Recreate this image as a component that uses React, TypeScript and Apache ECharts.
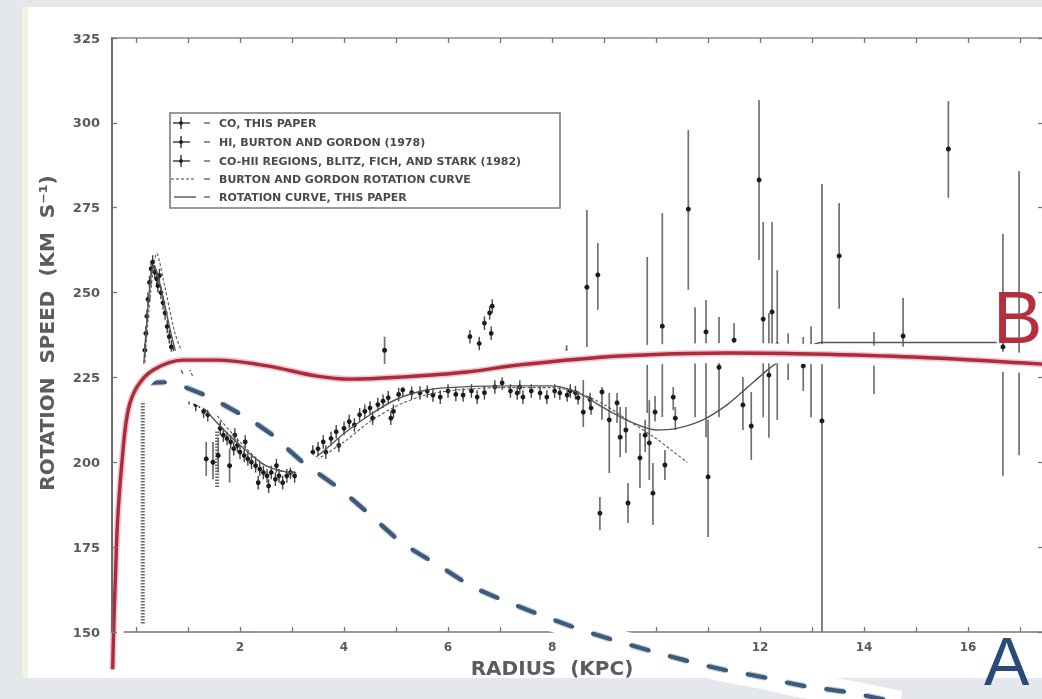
import React, { useEffect, useRef } from "react";
import * as echarts from "echarts";

// ---------- axes ----------
const X_MIN = -0.4615;
const X_MAX = 17.44;
const xTickValues = [0, 1, 2, 3, 4, 5, 6, 7, 8, 9, 10, 11, 12, 13, 14, 15, 16, 17];
const xLabelValues = [2, 4, 6, 8, 10, 12, 14, 16];
const Y_MIN = 150;
const Y_MAX = 325;
const Y_STEP = 25;

// ---------- scanned data: CO, this paper (R kpc, V km/s) ----------
const coPeak = [
  [0.17, 233], [0.19, 238], [0.21, 243], [0.23, 248], [0.26, 253], [0.29, 257], [0.32, 259],
  [0.36, 256], [0.4, 254], [0.42, 252], [0.45, 255], [0.48, 250], [0.52, 247], [0.56, 244],
  [0.6, 240], [0.64, 237], [0.68, 234], [0.72, 232],
];
const coDip = [
  [0.95, 221], [1.02, 219], [1.08, 220], [1.15, 217], [1.22, 218], [1.3, 215], [1.38, 214],
  [1.62, 210], [1.68, 208], [1.75, 207], [1.82, 206], [1.88, 204], [1.9, 208], [1.95, 205],
  [2.0, 203], [2.08, 202], [2.1, 206], [2.15, 201], [2.22, 200], [2.3, 199], [2.35, 194],
  [2.38, 198], [2.45, 197], [2.52, 196], [2.55, 193], [2.6, 197], [2.68, 195], [2.7, 199],
  [2.75, 196], [2.82, 194], [2.9, 196], [2.97, 197], [3.05, 196],
];
const coRise = [
  [3.3, 201], [3.4, 203], [3.5, 204], [3.6, 206], [3.65, 203], [3.75, 207], [3.85, 209],
  [3.9, 205], [4.0, 210], [4.1, 212], [4.2, 211], [4.3, 214], [4.4, 215], [4.5, 216],
  [4.55, 213], [4.65, 217], [4.75, 218], [4.85, 219], [4.9, 213], [4.95, 215], [5.05, 220],
];
const coFlat = [
  [5.13, 221.3], [5.3, 220.5], [5.46, 220.4], [5.6, 221], [5.71, 219.8], [5.85, 219.2],
  [6.0, 221], [6.15, 220], [6.29, 219.8], [6.45, 221], [6.56, 219.2], [6.7, 220.5],
  [6.9, 222.2], [7.04, 223.4], [7.2, 221], [7.33, 220.4], [7.38, 222.2], [7.44, 219.2],
  [7.6, 221], [7.77, 220.4], [7.9, 219.2], [8.05, 221], [8.15, 220.4], [8.29, 219.8],
  [8.35, 221], [8.45, 220.5], [8.5, 219], [8.73, 218.5], [8.75, 216],
];
const coHigh = [
  [6.42, 237], [6.6, 235], [6.7, 241], [6.8, 244], [6.85, 246], [6.83, 238],
];
const CO_ERR = 2;

// ---------- HI / HII points with error bars: [R, V, low, high] ----------
const barPoints = [
  [1.35, 201, 196, 206], [1.48, 200, 195, 206], [1.58, 202, 197, 207], [1.8, 199, 194, 204],
  [4.78, 233, 229, 237], [8.28, 232.5, 230.5, 234.5], [8.6, 214.8, 210.4, 224.2],
  [8.67, 251.6, 234, 274.3], [8.88, 255.2, 244.9, 264.6], [8.92, 185, 180, 189.8],
  [8.96, 220.7, 212.5, 222.2], [9.1, 212.5, 196.8, 220.4], [9.25, 217.5, 211.6, 220.4],
  [9.31, 207.4, 201.5, 216.3], [9.42, 209.5, 202.7, 216.3], [9.46, 188, 182.1, 193.9],
  [9.69, 201.3, 192.4, 208.6], [9.79, 208, 203, 212.5], [9.83, 232, 214.5, 260.5],
  [9.87, 205.7, 194.8, 218.3], [9.94, 190.9, 181.5, 199.8], [9.98, 214.8, 212, 219.5],
  [10.12, 240.1, 213.3, 273.4], [10.17, 199.2, 194.8, 203.6], [10.33, 219.2, 215.4, 222.2],
  [10.37, 213, 209.5, 216.3], [10.62, 274.6, 250.8, 297.9], [10.75, 230, 213.3, 245.7],
  [10.96, 238.4, 207.4, 247.8], [11.0, 195.7, 178, 212.5], [11.21, 228, 213.3, 242.8],
  [11.5, 236, 231, 241], [11.67, 216.9, 209.5, 225.1], [11.83, 210.7, 200.7, 220.7],
  [11.98, 283.2, 259.6, 306.7], [12.06, 242.2, 213.3, 270.8], [12.17, 225.7, 207.2, 244],
  [12.23, 244.3, 233.1, 270.8], [12.33, 234.6, 212.5, 256.6], [12.54, 230, 224.2, 238],
  [12.83, 228.4, 221, 236.9], [12.98, 232, 213.3, 240.1], [13.19, 212.2, 150, 282],
  [13.52, 260.8, 245.2, 276.4], [14.19, 232, 220.1, 238.4], [14.75, 237.2, 233.7, 248.4],
  [15.62, 292.3, 277.9, 306.4], [16.67, 234, 196, 267.3], [16.98, 229, 202.1, 285.8],
];
// dense hatched columns: [R, low, high]
const hatchBars = [
  [0.13, 152.5, 218],
  [1.56, 192.7, 209.5],
];

// ---------- rotation curves ----------
const rcThisPaper = [
  [0.15, 229], [0.22, 244], [0.3, 256], [0.35, 258], [0.42, 255], [0.5, 250], [0.6, 243],
  [0.72, 235], [0.9, 226], [1.2, 218], [1.6, 211], [2.0, 205], [2.5, 199], [3.0, 197],
  [3.5, 202], [4.0, 208.5], [4.5, 214], [5.0, 218.5], [5.5, 221], [6.0, 222], [7.0, 222.5],
  [8.0, 222.5], [8.5, 220.5], [9.0, 216], [9.5, 212], [10.0, 209.5], [10.4, 210],
  [10.9, 212.5], [11.37, 217], [11.75, 222], [12.13, 227], [12.4, 230], [12.8, 233],
  [13.19, 235.3], [16.55, 235.3],
];
const rcBurtonGordon = [
  [0.15, 225], [0.25, 245], [0.4, 261.5], [0.55, 252], [0.75, 238], [0.9, 232], [1.2, 222],
  [1.6, 213], [2.0, 206], [2.5, 199], [3.0, 197], [3.5, 201], [4.0, 206], [4.5, 212],
  [5.0, 216.5], [5.5, 219.5], [6.0, 221], [7.0, 222], [8.0, 222], [8.5, 220.5], [9.0, 217],
  [9.5, 212], [10.0, 207], [10.3, 203.5], [10.6, 200],
];

// ---------- overlay curves ----------
const curveB = [
  [-0.45, 139], [-0.42, 156], [-0.4, 164.4], [-0.35, 183.9], [-0.25, 203.6], [-0.15, 215.4],
  [0.02, 222.2], [0.33, 227.2], [0.9, 230.1], [1.56, 230.1], [2.52, 228.4], [3.48, 225.4],
  [4.12, 224.5], [5.08, 225.1], [6.37, 226.6], [7.38, 228.7], [9.31, 231.3], [11.37, 232.2],
  [12.96, 231.9], [14.94, 231], [17.44, 228.9],
];
const curveA = [
  [0.21, 223.4], [0.65, 223.4], [1.23, 220.4], [1.87, 215.4], [2.58, 208.6], [3.15, 200.7],
  [3.87, 192.7], [4.46, 185.1], [5.1, 176.5], [5.81, 169.7], [6.48, 163.3], [7.25, 158.2],
  [8.15, 152.9], [8.87, 149.1], [9.63, 145.6], [10.4, 142.3], [11.23, 139.1], [12.06, 136.7],
  [12.83, 134.1], [13.67, 132.3], [14.69, 129.1],
];

const legendRows = [
  { kind: "cross", text: "CO, THIS PAPER" },
  { kind: "cross", text: "HI, BURTON AND GORDON (1978)" },
  { kind: "cross", text: "CO-HII REGIONS, BLITZ, FICH, AND STARK (1982)" },
  { kind: "dotted", text: "BURTON AND GORDON ROTATION CURVE" },
  { kind: "solid", text: "ROTATION CURVE, THIS PAPER" },
];

const SCAN_FONT = "DejaVu Sans";
const DASH_ON = 18;
const DASH_OFF = 22;

function makeRender(barColor: string, barWidth: number, dotR: number, dash?: number[]) {
  return (params: any, api: any) => {
    const x = api.value(0);
    const v = api.value(1);
    const lo = api.value(2);
    const hi = api.value(3);
    const a = api.coord([x, lo]);
    const b = api.coord([x, hi]);
    const p = api.coord([x, v]);
    const children: any[] = [
      {
        type: "line",
        shape: { x1: a[0], y1: a[1], x2: b[0], y2: b[1] },
        style: { stroke: barColor, lineWidth: barWidth, lineDash: dash || null },
      },
    ];
    if (dotR > 0) {
      children.push({
        type: "circle",
        shape: { cx: p[0], cy: p[1], r: dotR },
        style: { fill: "#1c1c1c" },
      });
    }
    return { type: "group", children };
  };
}

// Catmull-Rom through pixel points (from the axis scales), then split into dashes
function smoothPixels(pts: number[][]) {
  const out: number[][] = [];
  const n = pts.length;
  for (let i = 0; i < n - 1; i++) {
    const p0 = pts[Math.max(0, i - 1)];
    const p1 = pts[i];
    const p2 = pts[i + 1];
    const p3 = pts[Math.min(n - 1, i + 2)];
    for (let s = 0; s < 24; s++) {
      const t = s / 24;
      const t2 = t * t;
      const t3 = t2 * t;
      const f = (k: number) =>
        0.5 * (2 * p1[k] + (-p0[k] + p2[k]) * t + (2 * p0[k] - 5 * p1[k] + 4 * p2[k] - p3[k]) * t2 +
          (-p0[k] + 3 * p1[k] - 3 * p2[k] + p3[k]) * t3);
      out.push([f(0), f(1)]);
    }
  }
  out.push(pts[n - 1]);
  return out;
}

function splitDashes(poly: number[][], on: number, off: number) {
  const dashes: number[][][] = [];
  let drawing = true;
  let left = on;
  let start = poly[0];
  for (let i = 1; i < poly.length; i++) {
    let a = poly[i - 1];
    const b = poly[i];
    let segLen = Math.hypot(b[0] - a[0], b[1] - a[1]);
    while (segLen > left) {
      const r = left / segLen;
      const m = [a[0] + (b[0] - a[0]) * r, a[1] + (b[1] - a[1]) * r];
      if (drawing) dashes.push([start, m]);
      start = m;
      drawing = !drawing;
      segLen -= left;
      left = drawing ? on : off;
      a = m;
    }
    left -= segLen;
  }
  if (drawing) dashes.push([start, poly[poly.length - 1]]);
  return dashes;
}

function dashedCurveRender(points: number[][]) {
  return (params: any, api: any) => {
    if (params.dataIndex !== 0) return null;
    const pix = points.map((d) => api.coord([d[0], d[1]]));
    const dense = smoothPixels(pix);
    const dashes = splitDashes(dense, DASH_ON, DASH_OFF);
    const children: any[] = [
      {
        type: "polyline",
        shape: { points: dense },
        style: { fill: null, stroke: "#ffffff", lineWidth: 24, lineJoin: "round" },
      },
    ];
    dashes.forEach((d) => {
      children.push({
        type: "line",
        shape: { x1: d[0][0], y1: d[0][1], x2: d[1][0], y2: d[1][1] },
        style: { stroke: "rgba(150,175,200,0.6)", lineWidth: 6.5, lineCap: "butt" },
      });
    });
    dashes.forEach((d) => {
      children.push({
        type: "line",
        shape: { x1: d[0][0], y1: d[0][1], x2: d[1][0], y2: d[1][1] },
        style: { stroke: "#3d5a7a", lineWidth: 4.2, lineCap: "round" },
      });
    });
    return { type: "group", children };
  };
}

function legendGraphics() {
  const els: any[] = [
    {
      type: "rect",
      shape: { x: 170, y: 113, width: 390, height: 95 },
      style: { fill: "#ffffff", stroke: "#7a7a7a", lineWidth: 1.6 },
      z: 1,
    },
  ];
  const rowY = [123, 142, 161, 179, 197];
  legendRows.forEach((row, i) => {
    const y = rowY[i];
    if (row.kind === "cross") {
      els.push({ type: "line", shape: { x1: 173, y1: y, x2: 190, y2: y }, style: { stroke: "#333", lineWidth: 1.4 }, z: 2 });
      els.push({ type: "line", shape: { x1: 181, y1: y - 6, x2: 181, y2: y + 6 }, style: { stroke: "#333", lineWidth: 1.4 }, z: 2 });
      els.push({ type: "circle", shape: { cx: 181, cy: y, r: 2 }, style: { fill: "#222" }, z: 2 });
    } else if (row.kind === "dotted") {
      els.push({ type: "line", shape: { x1: 171, y1: y, x2: 195, y2: y }, style: { stroke: "#444", lineWidth: 1.2, lineDash: [3, 2] }, z: 2 });
    } else {
      els.push({ type: "line", shape: { x1: 174, y1: y, x2: 196, y2: y }, style: { stroke: "#444", lineWidth: 1.3 }, z: 2 });
    }
    els.push({ type: "line", shape: { x1: 204, y1: y, x2: 210, y2: y }, style: { stroke: "#555", lineWidth: 1.3 }, z: 2 });
    els.push({
      type: "text",
      x: 219,
      y: y,
      z: 2,
      style: {
        text: row.text,
        font: `bold 11px "${SCAN_FONT}"`,
        fill: "#4a4a4a",
        align: "left",
        verticalAlign: "middle",
        textAlign: "left",
        textVerticalAlign: "middle",
      },
    });
  });
  return els;
}

export default function App() {
  const ref = useRef<HTMLDivElement>(null);

  useEffect(() => {
    if (!ref.current) return;
    const chart = echarts.init(ref.current, undefined, { renderer: "svg" });

    const coAll = [...coPeak, ...coDip, ...coRise, ...coFlat, ...coHigh].map((d) => [
      d[0], d[1], d[1] - CO_ERR, d[1] + CO_ERR,
    ]);
    const hatchData = hatchBars.map((d) => [d[0], (d[1] + d[2]) / 2, d[1], d[2]]);

    const tickStyle = { color: "#777", width: 1.3 };
    const labelStyle = { color: "#5a5a5a", fontFamily: SCAN_FONT, fontWeight: "bold" as const };

    const option: any = {
      animation: false,
      backgroundColor: "transparent",
      grid: { left: 112, top: 38, width: 931, height: 594, outerBoundsMode: "none", containLabel: false },
      xAxis: [
        {
          type: "value",
          position: "bottom",
          min: X_MIN,
          max: X_MAX,
          axisLine: { show: true, onZero: false, lineStyle: { color: "#777", width: 1.6 } },
          axisTick: { show: true, inside: true, length: 5, customValues: xTickValues, lineStyle: tickStyle },
          axisLabel: { show: true, customValues: xLabelValues, margin: 9, fontSize: 12, ...labelStyle },
          splitLine: { show: false },
        },
        {
          type: "value",
          position: "top",
          min: X_MIN,
          max: X_MAX,
          axisLine: { show: true, onZero: false, lineStyle: { color: "#888", width: 1.6 } },
          axisTick: { show: true, inside: true, length: 5, customValues: xTickValues, lineStyle: tickStyle },
          axisLabel: { show: false },
          splitLine: { show: false },
        },
      ],
      yAxis: [
        {
          type: "value",
          position: "left",
          min: Y_MIN,
          max: Y_MAX,
          interval: Y_STEP,
          z: 10,
          axisLine: { show: true, onZero: false, lineStyle: { color: "#6a6a6a", width: 2 } },
          axisTick: { show: true, inside: true, length: 5, lineStyle: tickStyle },
          axisLabel: { show: true, margin: 12, fontSize: 13, ...labelStyle },
          splitLine: { show: false },
        },
        {
          type: "value",
          position: "right",
          min: Y_MIN,
          max: Y_MAX,
          interval: Y_STEP,
          axisLine: { show: true, onZero: false, lineStyle: { color: "#888", width: 1.5 } },
          axisTick: { show: true, inside: true, length: 5, lineStyle: tickStyle },
          axisLabel: { show: false },
          splitLine: { show: false },
        },
      ],
      graphic: [
        { type: "rect", shape: { x: 0, y: 0, width: 1042, height: 699 }, style: { fill: "#e4e7eb" }, z: -100 },
        { type: "rect", shape: { x: 22, y: 7, width: 1020, height: 671 }, style: { fill: "#ffffff" }, z: -99 },
        { type: "rect", shape: { x: 22, y: 7, width: 6, height: 671 }, style: { fill: "#f3f1e2" }, z: -98 },
        ...legendGraphics(),
        {
          type: "text",
          x: 47,
          y: 333,
          rotation: Math.PI / 2,
          z: 1,
          style: {
            text: "ROTATION  SPEED  (KM  S⁻¹)",
            font: `bold 20px "${SCAN_FONT}"`,
            fill: "#5c5c5c",
            align: "center",
            verticalAlign: "middle",
            textAlign: "center",
            textVerticalAlign: "middle",
          },
        },
        {
          type: "text",
          x: 552,
          y: 668,
          z: 1,
          style: {
            text: "RADIUS  (KPC)",
            font: `bold 20px "${SCAN_FONT}"`,
            fill: "#5c5c5c",
            align: "center",
            verticalAlign: "middle",
            textAlign: "center",
            textVerticalAlign: "middle",
          },
        },
        {
          type: "text",
          x: 993,
          y: 317,
          z: 100,
          style: {
            text: "B",
            font: `74px "Liberation Sans"`,
            fill: "#b3303f",
            align: "left",
            verticalAlign: "middle",
            textAlign: "left",
            textVerticalAlign: "middle",
          },
        },
        {
          type: "text",
          x: 984,
          y: 661,
          z: 100,
          style: {
            text: "A",
            font: `68px "Liberation Sans"`,
            fill: "#2a4a78",
            align: "left",
            verticalAlign: "middle",
            textAlign: "left",
            textVerticalAlign: "middle",
          },
        },
      ],
      series: [
        {
          type: "custom",
          name: "hatch",
          renderItem: makeRender("#6a6a6a", 4, 0, [1.5, 1.5]),
          data: hatchData,
          encode: { x: 0, y: 1 },
          clip: false,
          z: 2,
        },
        {
          type: "custom",
          name: "bars",
          renderItem: makeRender("#707070", 1.7, 2.5),
          data: barPoints,
          encode: { x: 0, y: 1 },
          clip: false,
          z: 2,
        },
        {
          type: "custom",
          name: "co",
          renderItem: makeRender("#444", 1.4, 2.4),
          data: coAll,
          encode: { x: 0, y: 1 },
          clip: false,
          z: 2,
        },
        {
          type: "line",
          name: "Burton and Gordon rotation curve",
          data: rcBurtonGordon,
          smooth: 0.3,
          showSymbol: false,
          lineStyle: { color: "#555", width: 1.1, type: [3, 2] },
          z: 2,
        },
        {
          type: "line",
          name: "Rotation curve, this paper",
          data: rcThisPaper,
          smooth: 0.3,
          showSymbol: false,
          lineStyle: { color: "#555", width: 1.4 },
          z: 2,
        },
        // white erasure halo for B
        {
          type: "line",
          data: curveB,
          smooth: 0.35,
          showSymbol: false,
          clip: false,
          lineStyle: { color: "#ffffff", width: 20 },
          z: 3,
        },
        // overlay B
        {
          type: "line",
          data: curveB,
          smooth: 0.35,
          showSymbol: false,
          clip: false,
          lineStyle: { color: "rgba(215,130,140,0.45)", width: 6.5 },
          z: 4,
        },
        {
          type: "line",
          name: "B",
          data: curveB,
          smooth: 0.35,
          showSymbol: false,
          clip: false,
          lineStyle: { color: "#ad2b3a", width: 3.4 },
          z: 5,
        },
        // overlay A (white halo + dashes)
        {
          type: "custom",
          name: "A",
          renderItem: dashedCurveRender(curveA),
          data: curveA,
          encode: { x: 0, y: 1 },
          clip: false,
          z: 3,
        },
      ],
    };

    chart.setOption(option);
    return () => chart.dispose();
  }, []);

  return (
    <div
      ref={ref}
      style={{ position: "fixed", left: 0, top: 0, width: 1042, height: 699 }}
    />
  );
}
